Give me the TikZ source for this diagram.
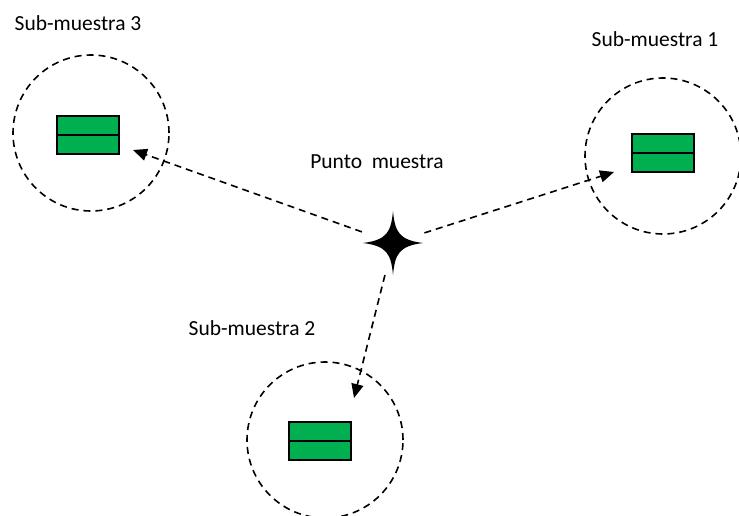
\documentclass[tikz,border=0pt]{standalone}
\usepackage{fontspec}
\setmainfont{Carlito}
\usetikzlibrary{arrows.meta}
\definecolor{boxgreen}{HTML}{00B050}
\tikzset{
  zone/.style={circle, draw, dashed, dash pattern=on 7pt off 5pt, line width=1.6pt, minimum size=156pt, inner sep=0pt},
  plot/.style={draw, line width=1.6pt, fill=boxgreen, minimum width=62pt, minimum height=38pt, inner sep=0pt,
    path picture={\draw[line width=1.6pt] (path picture bounding box.west) -- (path picture bounding box.east);}},
  lbl/.style={font=\fontsize{21.5}{24}\selectfont, inner sep=0pt},
  link/.style={dashed, dash pattern=on 7pt off 5pt, line width=1.6pt, shorten <=33pt, -{Triangle[length=14pt,width=12pt]}}
}
\begin{document}
\begin{tikzpicture}[x=1pt,y=-1pt]
\useasboundingbox (0,0) rectangle (739,516);

% sampling zones
\node[zone] (z3) at (91,133) {};
\node[zone] (z1) at (663,156) {};
\node[zone] (z2) at (325,440) {};

% sub-sample plots
\node[plot] (p3) at (88,135) {};
\node[plot] (p1) at (663,153) {};
\node[plot] (p2) at (320,441) {};

% central sample point (four-pointed star)
\coordinate (c) at (393,243);
\fill (393,211) .. controls (395,232) and (399,240) .. (423,243)
  .. controls (399,246) and (395,254) .. (393,275)
  .. controls (391,254) and (387,246) .. (363,243)
  .. controls (387,240) and (391,232) .. (393,211) -- cycle;

% arrow tips inside the zones
\coordinate (t3) at (133,150);
\coordinate (t1) at (614,172);
\coordinate (t2) at (354,398);

\draw[link] (c) -- (t3);
\draw[link] (c) -- (t1);
\draw[link] (c) -- (t2);

% labels
\node[lbl] (l3) at (78,23) {Sub-muestra 3};
\node[lbl] (l1) at (655,39) {Sub-muestra 1};
\node[lbl] (l2) at (252,328) {Sub-muestra 2};
\node[lbl] (lc) at (377,162) {Punto\ \ muestra};
\end{tikzpicture}
\end{document}
